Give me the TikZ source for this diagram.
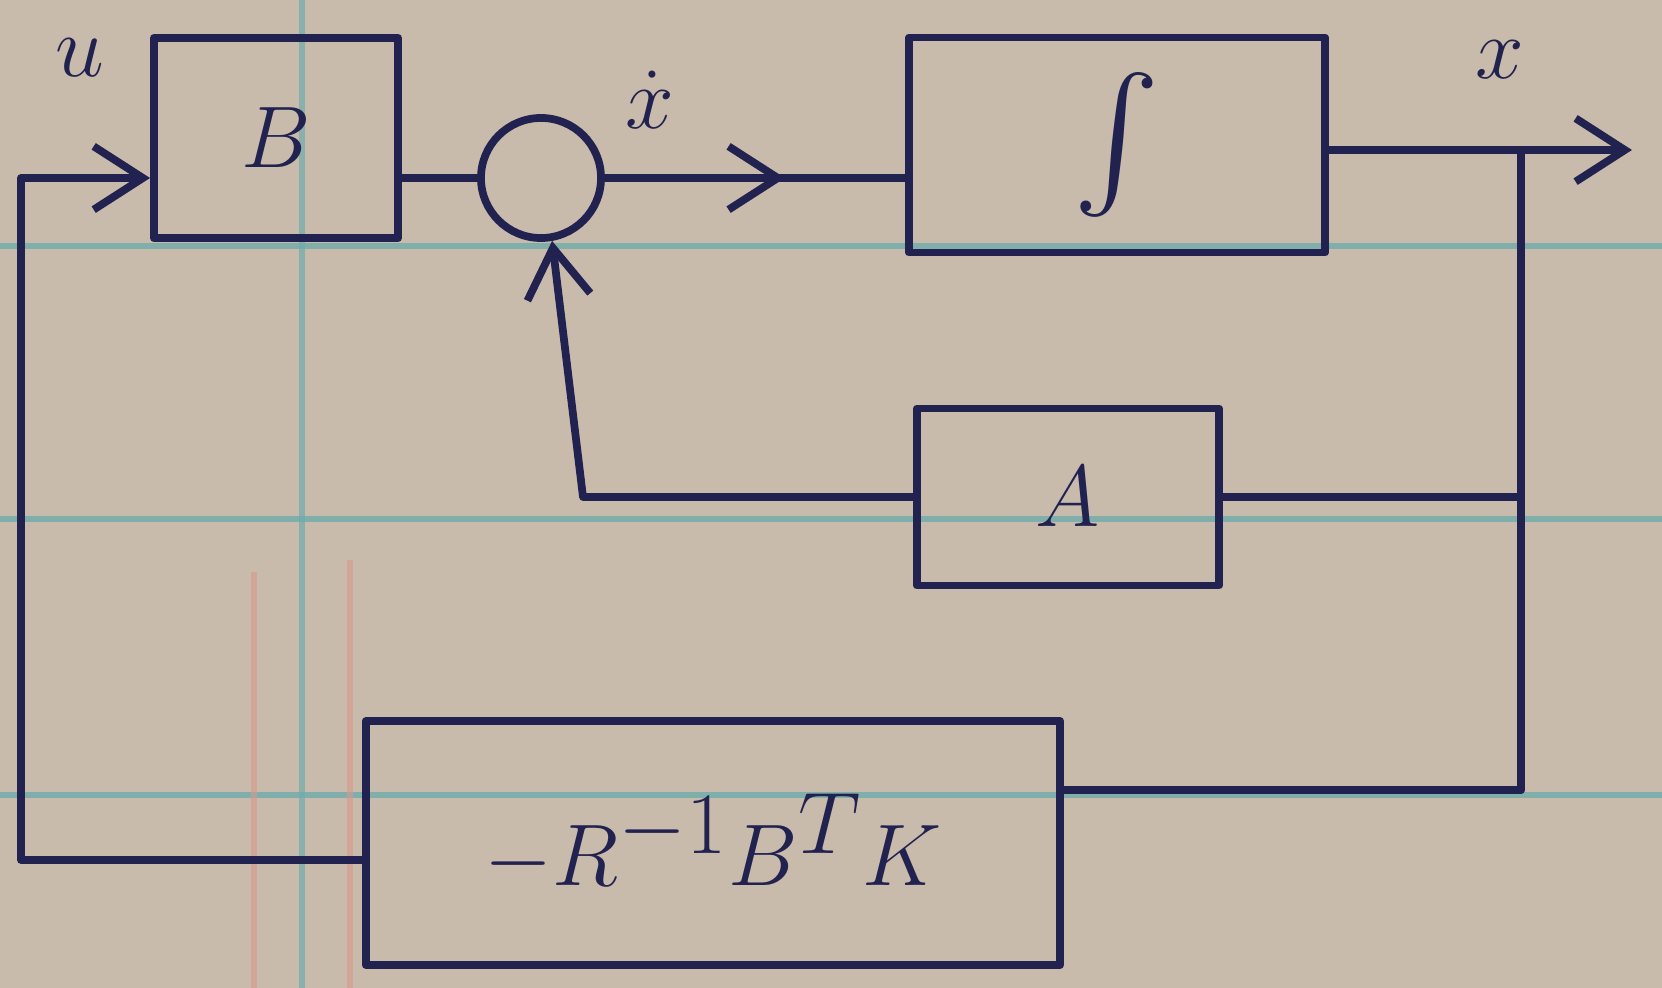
\documentclass[tikz,border=0pt]{standalone}
\usepackage{exscale}
\usepackage{graphicx}
\usetikzlibrary{arrows.meta,decorations.markings,calc}
\definecolor{paper}{RGB}{201,187,171}
\definecolor{rulecol}{RGB}{110,172,172}
\definecolor{margincol}{RGB}{218,150,140}
\definecolor{ink}{RGB}{34,34,80}
\begin{document}
\begin{tikzpicture}[x=0.01cm,y=-0.01cm,
  ink line/.style={draw=ink,line width=2.2pt,line join=round,line cap=round},
  blk/.style={ink line,rectangle,inner sep=0pt,text=ink,font=\fontsize{34}{40}\selectfont},
  tip/.style={-{Straight Barb[length=14pt,width=18pt,line width=2.2pt]}},
  midtip/.style={postaction={decorate},decoration={markings,mark=at position #1 with {\arrow{Straight Barb[length=14pt,width=18pt,line width=2.2pt]}}}},
  lbl/.style={text=ink,font=\fontsize{30}{36}\selectfont}]
\fill[paper] (0,0) rectangle (1662,988);
\useasboundingbox (0,0) rectangle (1662,988);
% ruled paper
\draw[rulecol,line width=1.6pt,opacity=0.8] (0,246) -- (1662,246);
\draw[rulecol,line width=1.6pt,opacity=0.8] (0,519) -- (1662,519);
\draw[rulecol,line width=1.6pt,opacity=0.8] (0,795) -- (1662,795);
\draw[rulecol,line width=1.6pt,opacity=0.7] (302,0) -- (302,988);
\draw[margincol,line width=1.6pt,opacity=0.6] (254,572) -- (254,988);
\draw[margincol,line width=1.6pt,opacity=0.6] (350,560) -- (350,988);
% blocks
\node[blk,minimum width=2.44cm,minimum height=2.0cm] (B) at (276,138) {$B$};
\node[ink line,circle,minimum size=1.2cm,inner sep=0pt] (s) at (541,178) {};
\node[blk,minimum width=4.16cm,minimum height=2.15cm] (I) at (1117,145) {\resizebox{!}{1.05cm}{$\int$}};
\node[blk,minimum width=3.02cm,minimum height=1.77cm] (A) at (1068,497) {$A$};
\node[blk,minimum width=6.94cm,minimum height=2.44cm] (K) at (713,843) {$-R^{-1}B^{T}K$};
% labels
\node[lbl] (u) at (80,58) {$u$};
\node[lbl] (xd) at (650,100) {$\dot{x}$};
\node[lbl] (xo) at (1500,60) {$x$};
% coordinates
\coordinate (br) at (1521,150);
\coordinate (out) at (1632,150);
\coordinate (kr) at (1521,790);
\coordinate (ar) at (1521,497);
\coordinate (al) at (583,497);
\coordinate (lt) at (21,178);
\coordinate (lb) at (21,860);
% connectors
\draw[ink line] (B.east |- s.west) -- (s.west);
\draw[ink line,midtip=0.6] (s.east) -- (I.west |- s.east);
\draw[ink line,tip] (I.east |- br) -- (out);
\draw[ink line] (br) -- (kr);
\draw[ink line] (ar) -- (A.east);
\draw[ink line,tip] (A.west) -- (al) -- (s.-80);
\draw[ink line] (kr) -- (K.east |- kr);
\draw[ink line,tip] (K.west |- lb) -- (lb) -- (lt) -- (B.west |- lt);
\end{tikzpicture}
\end{document}
